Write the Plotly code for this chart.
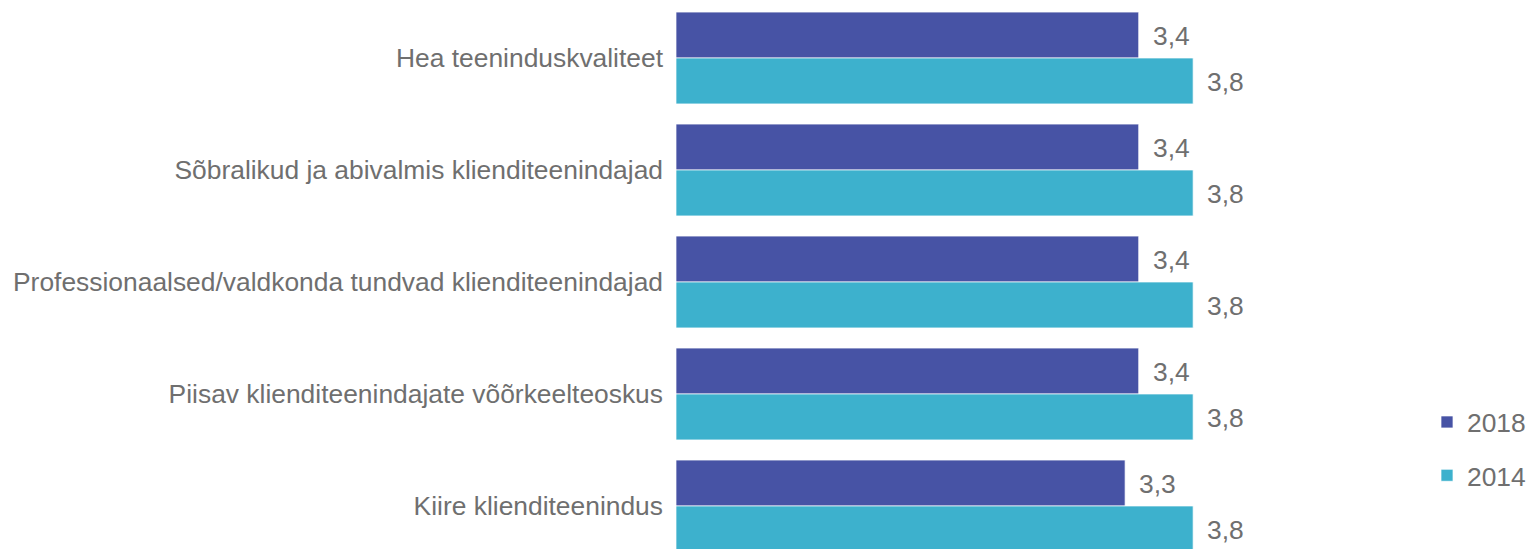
import plotly.graph_objects as go

categories = [
    "Hea teeninduskvaliteet",
    "Sõbralikud ja abivalmis klienditeenindajad",
    "Professionaalsed/valdkonda tundvad klienditeenindajad",
    "Piisav klienditeenindajate võõrkeelteoskus",
    "Kiire klienditeenindus",
]
values_2018 = [3.4, 3.4, 3.4, 3.4, 3.3]
values_2014 = [3.8, 3.8, 3.8, 3.8, 3.8]
series_names = ["2018", "2014"]
colors = ["#4753A5", "#3DB1CD"]

FONT = "Liberation Sans, Arial, sans-serif"
GRAY = "#6F6F6F"
FS = 26.4

fig = go.Figure()
for name, vals, col, grp in zip(series_names, [values_2018, values_2014], colors, ["a", "b"]):
    fig.add_trace(go.Bar(
        y=categories, x=vals, name=name, orientation="h",
        marker=dict(color=col, line=dict(color="rgba(255,255,255,0.7)", width=1)),
        legendgroup=grp,
    ))

def fmt(v):
    return f"{v:.1f}".replace(".", ",")

annotations = []
for vals, ysh in [(values_2018, 22), (values_2014, -24)]:
    for cat, v in zip(categories, vals):
        annotations.append(dict(
            x=v, y=cat, xref="x", yref="y", text=fmt(v), showarrow=False,
            xanchor="left", yanchor="middle", xshift=12, yshift=ysh,
            font=dict(family=FONT, size=FS, color=GRAY),
        ))

fig.update_layout(
    width=1529, height=549,
    margin=dict(l=676, r=129, t=2, b=0, autoexpand=False),
    paper_bgcolor="white", plot_bgcolor="white",
    barmode="group", bargap=0.18, bargroupgap=0,
    font=dict(family=FONT, size=FS, color=GRAY),
    xaxis=dict(range=[0, 5.32], visible=False, fixedrange=True),
    yaxis=dict(range=[4.384, -0.5], showgrid=False, zeroline=False, showline=False,
               ticks="", ticklabelstandoff=12, fixedrange=True,
               tickfont=dict(family=FONT, size=FS, color=GRAY)),
    legend=dict(x=1.0373, y=0.2755, xanchor="left", yanchor="top", traceorder="grouped",
                tracegroupgap=16, font=dict(family=FONT, size=FS, color=GRAY),
                bgcolor="rgba(0,0,0,0)"),
    annotations=annotations,
    showlegend=True,
)

fig.write_html("out.html", config={"displayModeBar": False},
               post_script="document.body.style.margin='0';")
